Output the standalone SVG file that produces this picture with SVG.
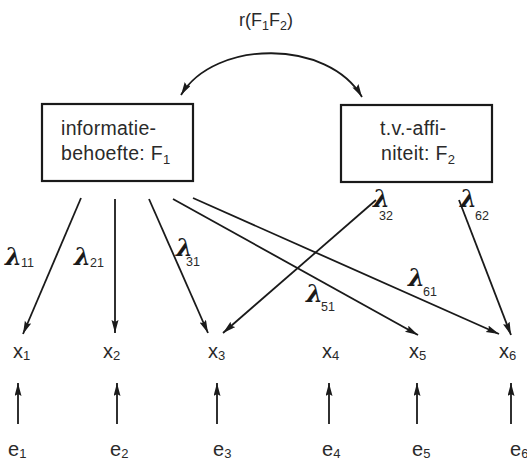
<svg xmlns="http://www.w3.org/2000/svg" width="527" height="464" viewBox="0 0 527 464">
<defs>
<marker id="ah" markerUnits="userSpaceOnUse" markerWidth="14" markerHeight="8" refX="13" refY="3.5" orient="auto-start-reverse">
<path d="M0,0 L13,3.5 L0,7 L2,3.5 Z" fill="#1a1a1a"/>
</marker>
</defs>
<style>
.t{font-family:"Liberation Sans",Arial,sans-serif;fill:#2a2a2a}
.box{fill:#fff;stroke:#1a1a1a;stroke-width:2.2}
.c{fill:none;stroke:#1a1a1a;stroke-width:1.8}
.l{font-family:"DejaVu Serif","Liberation Serif",serif;font-style:italic;font-weight:bold;font-size:24px;fill:#1a1a1a}
.s{font-family:"Liberation Sans",Arial,sans-serif;font-size:12.5px;fill:#2a2a2a}
</style>
<rect width="527" height="464" fill="#fff"/>
<text class="t" x="239" y="26" font-size="18">r(F<tspan font-size="12.5" dy="4">1</tspan><tspan dy="-4">F</tspan><tspan font-size="12.5" dy="4">2</tspan><tspan dy="-4">)</tspan></text>
<g id="F1">
<rect class="box" x="42" y="104" width="151" height="77"/>
<text class="t" x="61" y="135" font-size="19.5" letter-spacing="0.3">informatie-</text>
<text class="t" x="61" y="160" font-size="19.5" letter-spacing="0.3">behoefte: F<tspan font-size="13" dy="4">1</tspan></text>
</g>
<g id="F2">
<rect class="box" x="341" y="105" width="151" height="77"/>
<text class="t" x="380" y="135" font-size="19.5" letter-spacing="0.3">t.v.-affi-</text>
<text class="t" x="381" y="160" font-size="19.5" letter-spacing="0.3">niteit: F<tspan font-size="13" dy="4">2</tspan></text>
</g>
<g id="x1"><text class="t" x="13" y="358" font-size="20">x<tspan font-size="13" dy="2">1</tspan></text></g>
<g id="x2"><text class="t" x="103" y="358" font-size="20">x<tspan font-size="13" dy="2">2</tspan></text></g>
<g id="x3"><text class="t" x="208" y="358" font-size="20">x<tspan font-size="13" dy="2">3</tspan></text></g>
<g id="x4"><text class="t" x="322" y="358" font-size="20">x<tspan font-size="13" dy="2">4</tspan></text></g>
<g id="x5"><text class="t" x="409" y="358" font-size="20">x<tspan font-size="13" dy="2">5</tspan></text></g>
<g id="x6"><text class="t" x="499" y="358" font-size="20">x<tspan font-size="13" dy="2">6</tspan></text></g>
<g id="e1"><text class="t" x="8" y="456" font-size="20">e<tspan font-size="13" dy="2">1</tspan></text></g>
<g id="e2"><text class="t" x="110" y="456" font-size="20">e<tspan font-size="13" dy="2">2</tspan></text></g>
<g id="e3"><text class="t" x="213" y="456" font-size="20">e<tspan font-size="13" dy="2">3</tspan></text></g>
<g id="e4"><text class="t" x="322" y="456" font-size="20">e<tspan font-size="13" dy="2">4</tspan></text></g>
<g id="e5"><text class="t" x="412" y="456" font-size="20">e<tspan font-size="13" dy="2">5</tspan></text></g>
<g id="e6"><text class="t" x="510" y="456" font-size="20">e<tspan font-size="13" dy="2">6</tspan></text></g>
<g id="connectors">
<path class="c" d="M181,95 C215,39 328,39 362,97" marker-start="url(#ah)" marker-end="url(#ah)"/>
<line class="c" x1="81" y1="198" x2="23" y2="334" marker-end="url(#ah)"/>
<line class="c" x1="115" y1="199" x2="115" y2="333" marker-end="url(#ah)"/>
<line class="c" x1="149" y1="199" x2="208" y2="333" marker-end="url(#ah)"/>
<line class="c" x1="173" y1="199" x2="418" y2="335" marker-end="url(#ah)"/>
<line class="c" x1="193" y1="198" x2="499" y2="334" marker-end="url(#ah)"/>
<line class="c" x1="376" y1="200" x2="223" y2="333" marker-end="url(#ah)"/>
<line class="c" x1="459" y1="200" x2="511" y2="335" marker-end="url(#ah)"/>
<line class="c" x1="18" y1="424" x2="18" y2="383" marker-end="url(#ah)"/>
<line class="c" x1="117" y1="424" x2="117" y2="383" marker-end="url(#ah)"/>
<line class="c" x1="217" y1="424" x2="217" y2="383" marker-end="url(#ah)"/>
<line class="c" x1="329" y1="424" x2="329" y2="383" marker-end="url(#ah)"/>
<line class="c" x1="417" y1="424" x2="417" y2="383" marker-end="url(#ah)"/>
<line class="c" x1="511" y1="424" x2="511" y2="383" marker-end="url(#ah)"/>
</g>
<g id="labels">
<text class="l" x="5" y="265">λ</text><text class="s" x="21" y="267">11</text>
<text class="l" x="74" y="265">λ</text><text class="s" x="90" y="267">21</text>
<text class="l" x="176" y="256">λ</text><text class="s" x="186" y="266">31</text>
<text class="l" x="306" y="302">λ</text><text class="s" x="321" y="311">51</text>
<text class="l" x="408" y="286">λ</text><text class="s" x="423" y="296">61</text>
<text class="l" x="373" y="207">λ</text><text class="s" x="379" y="220">32</text>
<text class="l" x="460" y="207">λ</text><text class="s" x="475" y="220">62</text>
</g>
</svg>
